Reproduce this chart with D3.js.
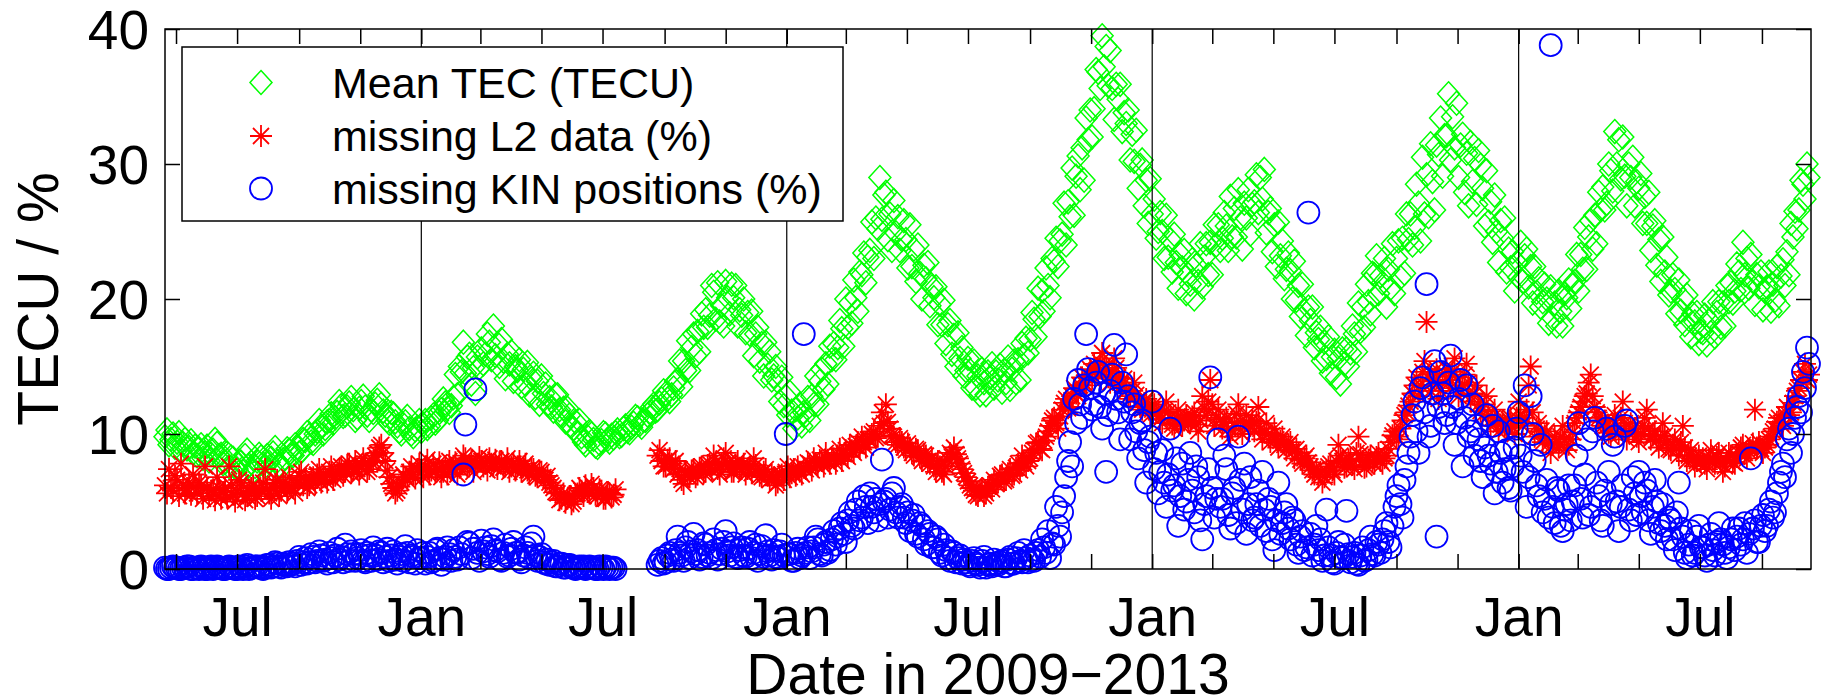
<!DOCTYPE html>
<html>
<head>
<meta charset="utf-8">
<script src="https://cdn.jsdelivr.net/npm/d3@7"></script>
<style>
  body { margin: 0; background: #fff; }
  text { font-family: "Liberation Sans", Arial, Helvetica, sans-serif; }
</style>
</head>
<body>
<div id="chart"></div>
<script>
// one sample every 2 days, first sample 20 Apr 2009 (each row = 32 days)
const startDate = new Date(2009, 3, 20);
const endDate = new Date(2013, 9, 20);
const stepDays = 2;

// Mean TEC (TECU)
const tecValues = [
  9.8, 10.3, 9.2, 9.6, 10.0, 9.0, 9.4, 10.1, 8.8, 9.3, 9.6, 8.9, 9.0, 9.5, 8.6, 9.1,
  8.4, 8.9, 9.2, 8.2, 8.6, 9.1, 8.0, 8.5, 8.8, 9.6, 9.3, 8.4, 8.5, 7.8, 7.9, 8.6,
  7.6, 8.3, 8.2, 7.5, 7.4, 8.0, 7.9, 7.2, 8.4, 8.8, 7.7, 7.9, 7.2, 7.6, 8.0, 8.5,
  8.3, 7.8, 7.6, 8.4, 7.9, 8.2, 8.6, 9.0, 8.0, 7.7, 7.5, 8.1, 8.2, 8.9, 8.8, 8.4,
  8.4, 9.2, 9.0, 8.6, 8.7, 9.6, 9.5, 10.1, 9.9, 9.4, 9.3, 10.0, 10.2, 11.0, 10.6, 10.0,
  10.4, 10.9, 11.0, 11.5, 10.8, 11.2, 11.6, 12.4, 12.1, 11.3, 11.4, 12.0, 12.3, 12.7, 11.8, 11.0,
  11.2, 11.9, 12.4, 12.8, 12.0, 11.4, 11.0, 11.8, 11.6, 12.2, 12.5, 12.9, 12.2, 11.7, 11.4, 11.0,
  10.8, 11.6, 11.5, 10.9, 10.6, 10.2, 10.0, 10.7, 10.9, 11.3, 10.4, 10.0, 9.8, 10.3, 10.5, 11.0,
  10.2, 10.7, 11.0, 10.4, 10.6, 11.2, 11.4, 10.8, 11.0, 11.6, 11.8, 12.6, 12.3, 11.9, 11.6, 12.1,
  12.7, 14.4, 12.9, 15.0, 14.6, 16.8, 14.5, 15.7, 15.9, 13.7, 14.9, 13.0, 15.7, 14.9, 16.3, 15.2,
  15.9, 17.4, 16.8, 15.5, 18.0, 15.8, 16.7, 15.0, 17.0, 15.4, 14.1, 15.9, 15.2, 16.1, 13.9, 15.0,
  14.7, 15.5, 13.5, 14.8, 13.7, 15.3, 12.9, 14.1, 14.5, 12.7, 13.9, 12.2, 14.3, 13.0, 13.7, 12.2,
  12.7, 12.0, 11.7, 12.9, 12.9, 11.8, 11.4, 11.9, 10.9, 11.9, 11.4, 10.6, 10.4, 10.9, 10.0, 11.0,
  9.8, 9.4, 9.2, 9.8, 10.2, 10.0, 9.6, 9.1, 9.0, 9.3, 9.5, 10.1, 10.0, 9.6, 9.4, 9.9,
  9.7, 10.1, 10.3, 9.8, 9.9, 10.4, 10.6, 10.2, 10.1, 10.5, 10.8, 11.3, 11.2, 10.7, 10.5, 11.0,
  11.0, 11.4, 11.6, 12.0, 12.2, 11.7, 11.8, 12.3, 12.6, 13.2, 13.0, 12.6, 12.4, 12.9, 13.4, 13.9,
  14.0, 15.4, 13.5, 15.4, 14.7, 16.9, 14.7, 16.4, 17.4, 15.8, 17.6, 16.1, 18.9, 17.9, 19.2, 17.9,
  18.8, 21.0, 20.5, 18.5, 21.2, 18.3, 19.5, 18.0, 21.3, 20.1, 18.9, 21.1, 20.1, 21.0, 18.0, 19.2,
  18.8, 20.0, 17.5, 19.0, 17.4, 19.1, 15.8, 17.4, 17.9, 15.4, 16.7, 14.3, 16.8, 15.1, 16.1, 14.0,
  14.3, 15.0, 13.9, 12.4, 14.2, 12.1, 12.8, 11.4, 13.1, 11.7, 10.4, 11.8, 11.2, 12.2, 10.6, 11.6,
  11.4, 12.7, 11.0, 12.8, 12.2, 14.3, 12.2, 13.9, 14.8, 13.3, 15.2, 13.7, 16.5, 15.5, 16.7, 15.5,
  16.4, 18.4, 17.8, 16.5, 20.0, 17.9, 19.7, 18.2, 21.4, 20.1, 19.1, 22.0, 21.8, 23.4, 21.2, 23.1,
  23.6, 25.7, 23.0, 26.0, 25.2, 29.0, 25.9, 27.7, 27.9, 24.4, 26.3, 23.6, 27.3, 24.9, 26.1, 23.6,
  24.4, 25.8, 24.4, 22.3, 25.5, 22.4, 23.7, 21.3, 24.0, 21.9, 20.0, 22.5, 21.5, 22.7, 19.5, 20.9,
  20.1, 20.9, 18.1, 19.6, 18.1, 19.9, 16.7, 18.1, 18.4, 15.9, 17.3, 15.0, 17.5, 15.6, 16.4, 14.3,
  14.7, 15.6, 14.7, 13.4, 15.4, 13.4, 14.3, 12.9, 14.8, 13.8, 12.9, 14.6, 14.2, 15.2, 13.4, 14.6,
  14.0, 15.1, 13.1, 14.7, 13.8, 15.7, 13.3, 14.8, 15.4, 13.8, 15.5, 14.0, 16.7, 15.8, 17.1, 16.0,
  17.0, 19.0, 18.5, 17.2, 20.8, 18.7, 20.6, 19.1, 22.3, 21.0, 20.1, 23.0, 22.8, 24.5, 22.4, 24.3,
  24.8, 27.1, 24.0, 27.2, 26.1, 29.7, 26.2, 29.1, 30.6, 28.1, 31.2, 28.8, 33.4, 31.8, 34.0, 32.0,
  34.1, 37.0, 36.8, 35.6, 39.5, 37.2, 38.7, 35.8, 38.4, 35.6, 33.3, 35.9, 34.8, 35.9, 32.4, 33.8,
  33.0, 34.0, 30.3, 32.2, 30.2, 32.5, 28.2, 29.9, 30.3, 26.9, 28.8, 25.6, 28.9, 26.3, 27.4, 24.5,
  25.0, 26.4, 25.0, 23.0, 26.2, 23.1, 24.4, 22.0, 24.8, 22.7, 20.8, 23.3, 22.3, 23.6, 20.4, 21.8,
  21.1, 22.9, 20.0, 22.5, 21.3, 24.1, 20.9, 23.1, 24.1, 21.8, 24.2, 21.8, 25.5, 24.0, 25.5, 23.6,
  24.5, 26.4, 25.4, 23.6, 27.6, 24.6, 26.7, 24.6, 28.1, 26.0, 23.7, 27.1, 26.0, 28.1, 24.8, 27.0,
  27.2, 29.2, 26.4, 29.0, 27.4, 29.6, 24.9, 26.4, 26.7, 23.5, 25.5, 22.4, 25.7, 23.2, 24.3, 21.5,
  22.2, 23.4, 22.1, 20.0, 22.8, 19.9, 21.0, 18.7, 21.1, 19.1, 17.3, 19.4, 18.4, 19.4, 16.4, 17.5,
  17.0, 17.9, 15.4, 16.8, 15.6, 17.2, 14.5, 15.7, 16.2, 14.2, 15.6, 13.7, 16.3, 15.2, 16.3, 15.0,
  16.0, 18.0, 17.4, 16.1, 19.7, 17.6, 19.4, 17.9, 21.1, 19.8, 18.9, 21.9, 21.8, 23.2, 20.4, 21.7,
  21.2, 23.0, 19.4, 22.2, 20.8, 24.1, 20.4, 23.0, 24.3, 21.6, 24.5, 21.9, 26.3, 24.4, 26.3, 24.0,
  25.3, 28.5, 27.1, 24.3, 30.5, 26.3, 29.2, 26.1, 31.5, 28.7, 26.6, 31.4, 30.7, 33.4, 29.1, 32.1,
  32.1, 35.2, 30.3, 33.5, 31.2, 34.5, 29.0, 31.4, 32.2, 27.9, 30.8, 26.9, 31.6, 28.7, 30.4, 27.0,
  31.0, 29.9, 28.2, 25.4, 29.5, 25.7, 27.2, 24.2, 27.7, 25.0, 22.7, 25.8, 24.5, 26.0, 22.0, 23.7,
  22.3, 23.5, 20.6, 22.7, 21.6, 24.2, 21.3, 23.2, 23.7, 20.9, 22.4, 19.7, 22.4, 20.5, 21.5, 19.4,
  19.8, 21.1, 20.0, 18.2, 20.9, 18.6, 19.7, 18.0, 20.6, 19.1, 18.0, 20.4, 20.1, 21.4, 19.3, 21.0,
  21.3, 23.3, 20.6, 23.3, 22.2, 25.3, 22.2, 24.6, 25.8, 23.7, 26.2, 24.1, 27.9, 26.6, 28.3, 26.6,
  27.1, 30.0, 29.5, 28.0, 32.4, 30.0, 31.8, 28.9, 32.0, 29.1, 26.9, 30.0, 29.0, 30.5, 26.9, 28.7,
  28.2, 29.3, 25.6, 27.6, 25.6, 27.9, 23.6, 25.4, 25.8, 22.5, 24.4, 21.3, 24.6, 22.0, 23.1, 20.3,
  20.6, 21.8, 20.7, 18.9, 21.4, 19.1, 20.0, 18.1, 20.3, 18.5, 17.2, 18.9, 18.3, 19.0, 16.7, 17.6,
  17.5, 18.8, 16.6, 18.4, 17.5, 19.8, 17.2, 19.0, 19.8, 17.9, 19.7, 18.0, 21.0, 19.8, 21.2, 19.7,
  20.6, 22.6, 22.0, 20.7, 24.2, 21.8, 23.0, 20.8, 23.3, 21.3, 19.6, 21.8, 20.9, 22.0, 19.2, 20.6,
  20.9, 22.0, 19.1, 21.1, 19.9, 22.4, 19.5, 21.7, 22.9, 21.0, 23.5, 21.8, 25.6, 24.6, 26.5, 25.2,
  26.6, 28.8, 28.5, 27.4, 30.0, 29.0
];

// missing L2 data (%)
const l2Values = [
  6.2, 5.6, 7.4, 6.0, 5.8, 6.9, 6.6, 5.4, 7.8, 6.2, 5.6, 6.0, 6.4, 5.5, 7.0, 6.1,
  5.6, 6.4, 6.2, 5.2, 7.6, 6.0, 5.4, 5.8, 5.9, 5.1, 6.8, 6.0, 5.2, 5.7, 6.0, 5.3,
  7.6, 6.2, 5.5, 5.0, 5.8, 6.6, 6.4, 5.6, 5.1, 5.4, 5.7, 6.0, 6.2, 5.2, 5.4, 5.9,
  5.8, 6.4, 7.4, 5.9, 5.6, 5.2, 6.0, 6.3, 6.6, 5.4, 5.8, 6.4, 6.2, 5.7, 6.8, 6.1,
  6.0, 5.6, 6.4, 6.9, 7.2, 6.2, 6.6, 6.0, 6.2, 6.7, 6.8, 6.3, 7.0, 7.4, 6.4, 6.8,
  6.8, 6.4, 7.2, 7.6, 6.6, 6.9, 7.0, 7.4, 7.6, 6.9, 7.2, 7.7, 7.8, 7.1, 7.4, 8.0,
  7.4, 7.0, 7.6, 8.2, 7.8, 7.2, 7.4, 7.9, 8.0, 8.4, 8.6, 9.0, 9.2, 8.6, 8.0, 7.3,
  6.8, 6.3, 6.0, 5.6, 5.8, 6.1, 6.4, 7.0, 6.8, 6.6, 7.2, 7.6, 7.0, 6.7, 7.4, 7.8,
  7.2, 6.8, 7.6, 8.1, 7.0, 7.3, 7.8, 7.2, 7.4, 7.9, 6.8, 7.2, 7.6, 7.0, 8.0, 7.5,
  7.4, 7.9, 7.0, 7.5, 7.8, 8.4, 8.2, 7.6, 7.6, 8.0, 7.2, 7.7, 7.8, 8.3, 8.0, 7.6,
  7.8, 7.3, 8.2, 7.8, 7.6, 8.1, 7.4, 7.9, 8.0, 7.5, 7.6, 8.2, 7.2, 7.6, 7.8, 7.3,
  7.6, 8.0, 7.2, 7.6, 7.8, 7.3, 7.0, 7.5, 7.4, 6.9, 6.8, 7.3, 7.2, 6.8, 6.6, 6.9,
  6.4, 6.2, 6.0, 5.7, 5.6, 5.1, 5.2, 5.6, 4.9, 5.2, 5.4, 4.8, 5.0, 5.5, 5.6, 6.0,
  5.8, 5.4, 6.2, 5.7, 5.6, 6.3, 6.0, 5.5, 5.4, 5.9, 5.8, 5.2, 5.2, 5.7, 5.6, 5.3,
  5.5, 5.9, null, null, null, null, null, null, null, null, null, null, null, null, null, null,
  null, null, null, null, null, null, 8.4, 8.8, 8.0, 7.6, 7.6, 8.1, 8.2, 7.8, 7.4, 8.0,
  7.0, 7.4, 6.6, 6.3, 7.2, 6.9, 6.8, 7.3, 7.4, 6.8, 7.0, 7.5, 7.6, 7.1, 7.2, 7.7,
  7.8, 7.3, 8.4, 7.9, 7.4, 7.0, 7.8, 8.2, 8.6, 7.9, 7.6, 7.2, 7.2, 7.7, 8.0, 7.5,
  7.4, 7.8, 7.0, 7.4, 7.6, 7.1, 8.2, 7.7, 7.2, 6.9, 6.8, 7.2, 7.4, 6.9, 6.6, 7.0,
  6.8, 6.2, 6.4, 6.9, 7.0, 6.6, 7.2, 7.6, 6.8, 7.1, 7.4, 6.9, 7.6, 7.2, 7.0, 7.5,
  7.4, 7.9, 7.8, 7.3, 8.2, 7.8, 7.6, 8.1, 8.0, 7.6, 8.6, 8.1, 7.8, 8.3, 8.2, 7.8,
  8.4, 8.9, 8.0, 8.5, 8.8, 8.3, 9.2, 8.8, 8.6, 9.1, 9.4, 8.9, 9.8, 9.4, 9.0, 9.6,
  9.6, 10.0, 10.2, 9.7, 9.8, 10.6, 11.6, 10.8, 12.2, 10.9, 10.4, 9.9, 9.8, 9.4, 9.2, 9.7,
  9.4, 9.0, 8.8, 9.3, 9.0, 8.6, 8.4, 8.9, 8.8, 8.3, 8.0, 8.5, 8.4, 8.0, 7.8, 8.2,
  7.6, 7.2, 8.0, 7.6, 7.2, 7.0, 7.6, 8.1, 8.6, 8.3, 9.0, 8.5, 8.2, 7.8, 7.4, 7.1,
  6.8, 6.5, 6.2, 6.0, 5.8, 5.5, 5.4, 5.8, 6.0, 5.4, 5.6, 6.1, 6.2, 5.9, 6.6, 6.3,
  6.4, 6.9, 7.0, 6.5, 6.6, 7.1, 7.4, 6.9, 7.0, 7.5, 7.8, 7.3, 8.4, 7.9, 7.6, 8.0,
  8.2, 8.6, 8.8, 9.3, 9.4, 8.9, 8.8, 9.5, 9.8, 10.2, 10.6, 11.0, 11.2, 10.8, 10.4, 11.3,
  11.8, 12.3, 12.6, 11.9, 12.0, 12.8, 13.4, 13.0, 12.8, 13.6, 14.2, 13.8, 13.6, 14.4, 14.8, 14.1,
  15.2, 14.7, 14.4, 15.3, 16.0, 15.1, 14.8, 14.2, 13.8, 14.6, 15.6, 14.9, 14.2, 13.8, 13.6, 14.1,
  13.2, 12.8, 12.6, 13.2, 13.8, 12.9, 12.4, 12.0, 11.8, 12.3, 12.6, 11.9, 11.4, 11.8, 12.2, 11.6,
  11.6, 11.1, 10.8, 11.7, 12.4, 11.6, 11.2, 10.7, 10.4, 11.2, 11.8, 11.0, 10.6, 11.0, 11.4, 10.9,
  10.8, 11.3, 11.6, 10.7, 10.2, 11.0, 12.8, 11.9, 11.4, 12.4, 14.0, 12.2, 10.6, 11.2, 11.8, 11.1,
  10.4, 10.9, 11.2, 10.4, 9.8, 10.3, 10.8, 11.5, 12.2, 10.9, 10.0, 10.6, 11.4, 10.8, 10.6, 11.0,
  10.2, 10.9, 12.0, 10.4, 9.6, 10.1, 10.8, 10.0, 9.4, 9.9, 10.4, 9.6, 9.0, 9.5, 9.8, 9.2,
  8.8, 9.2, 9.4, 8.7, 8.2, 8.9, 8.6, 8.1, 7.8, 8.2, 8.4, 7.9, 7.6, 7.3, 7.0, 7.4,
  6.8, 7.2, 6.4, 6.8, 7.2, 7.6, 7.8, 7.3, 7.0, 8.0, 9.2, 8.4, 8.0, 7.5, 7.6, 8.1,
  8.2, 7.7, 7.4, 8.6, 9.8, 8.5, 8.0, 7.5, 7.6, 8.1, 8.4, 7.9, 7.8, 8.3, 8.6, 8.0,
  7.8, 8.2, 8.4, 8.9, 9.4, 9.9, 10.2, 9.8, 9.6, 10.4, 11.0, 11.4, 11.6, 12.1, 12.4, 13.0,
  13.6, 14.2, 12.8, 13.6, 14.6, 15.4, 18.3, 14.4, 13.2, 13.9, 14.0, 14.8, 12.6, 13.2, 13.8, 14.5,
  14.8, 14.0, 13.4, 14.6, 15.6, 14.2, 12.8, 13.3, 13.6, 14.4, 15.2, 13.8, 12.4, 12.9, 13.0, 13.6,
  12.2, 11.7, 11.4, 12.2, 12.8, 11.4, 10.6, 11.2, 11.8, 10.9, 10.2, 10.7, 11.0, 10.6, 10.4, 11.1,
  11.2, 10.5, 10.0, 11.2, 12.4, 11.4, 10.6, 11.2, 11.8, 13.6, 15.0, 11.6, 9.8, 10.4, 10.8, 10.2,
  9.4, 9.9, 10.2, 9.3, 8.6, 9.2, 9.8, 9.4, 9.0, 9.8, 10.6, 9.6, 8.8, 9.2, 9.6, 10.1,
  10.8, 11.2, 11.6, 12.0, 12.4, 12.8, 13.0, 13.8, 14.4, 12.8, 12.0, 11.6, 11.2, 10.9, 10.6, 11.0,
  10.6, 10.1, 9.8, 10.6, 11.4, 10.6, 10.0, 11.2, 12.4, 10.8, 9.6, 10.1, 10.8, 10.4, 10.2, 9.8,
  9.4, 10.0, 10.6, 11.2, 11.8, 10.4, 9.6, 9.9, 10.2, 9.5, 9.0, 9.8, 10.8, 9.9, 9.4, 8.9,
  8.8, 9.2, 9.6, 8.9, 8.4, 9.4, 10.6, 9.0, 8.0, 8.4, 8.8, 8.2, 7.6, 8.0, 8.4, 7.9,
  8.2, 7.8, 7.4, 8.1, 8.8, 8.2, 7.8, 8.3, 8.6, 7.9, 7.2, 7.6, 8.0, 8.6, 8.4, 7.9,
  7.8, 8.3, 8.6, 9.0, 9.2, 8.6, 8.2, 8.7, 8.8, 9.3, 11.8, 9.0, 9.4, 8.9, 8.6, 9.0,
  9.2, 9.6, 9.8, 10.2, 10.4, 10.9, 11.2, 10.8, 10.6, 11.4, 12.0, 11.4, 11.6, 12.3, 12.8, 13.2,
  13.4, 14.0, 14.6, 15.2, 14.0, 14.4
];

// missing KIN positions (%)
const kinValues = [
  0.1, 0.0, 0.0, 0.1, 0.2, 0.1, 0.1, 0.0, 0.0, 0.1, 0.1, 0.2, 0.2, 0.0, 0.0, 0.1,
  0.1, 0.0, 0.2, 0.1, 0.0, 0.0, 0.1, 0.2, 0.0, 0.1, 0.2, 0.1, 0.1, 0.0, 0.0, 0.1,
  0.2, 0.1, 0.1, 0.0, 0.0, 0.2, 0.1, 0.0, 0.2, 0.3, 0.0, 0.1, 0.1, 0.2, 0.2, 0.1,
  0.2, 0.0, 0.1, 0.3, 0.3, 0.1, 0.2, 0.5, 0.4, 0.2, 0.1, 0.4, 0.3, 0.2, 0.5, 0.3,
  0.4, 0.2, 0.6, 0.9, 0.3, 0.5, 0.8, 0.4, 0.5, 1.1, 0.9, 0.5, 0.6, 1.3, 1.0, 0.6,
  0.7, 0.4, 1.2, 0.8, 0.5, 1.0, 1.5, 0.7, 0.9, 0.5, 1.8, 1.1, 0.6, 1.3, 1.1, 0.6,
  0.8, 1.1, 1.4, 0.6, 0.5, 1.2, 1.0, 0.6, 1.6, 1.0, 0.7, 1.3, 1.2, 0.5, 0.9, 1.5,
  0.6, 1.0, 1.3, 0.7, 0.4, 0.9, 1.1, 0.6, 1.7, 1.2, 0.5, 1.0, 0.9, 0.4, 1.4, 0.8,
  0.8, 1.2, 0.4, 0.9, 1.2, 0.5, 0.6, 1.4, 1.5, 0.8, 0.3, 0.7, 0.9, 1.6, 1.1, 0.6,
  1.4, 0.9, 0.7, 1.6, 1.1, 7.0, 10.7, 2.0, 1.9, 0.8, 1.5, 13.3, 1.2, 0.6, 2.1, 1.3,
  1.6, 1.1, 0.9, 1.7, 2.2, 1.4, 1.3, 0.7, 0.6, 1.2, 1.8, 0.9, 1.0, 1.5, 2.0, 1.2,
  1.2, 0.7, 0.5, 1.0, 1.6, 1.2, 0.8, 1.9, 2.4, 1.0, 0.6, 0.9, 1.1, 0.5, 0.4, 0.7,
  0.3, 0.5, 0.6, 0.2, 0.2, 0.4, 0.4, 0.1, 0.1, 0.3, 0.3, 0.1, 0.2, 0.0, 0.1, 0.2,
  0.1, 0.2, 0.0, 0.1, 0.2, 0.1, 0.1, 0.0, 0.0, 0.2, 0.1, 0.0, 0.2, 0.1, 0.0, 0.1,
  0.1, 0.0, null, null, null, null, null, null, null, null, null, null, null, null, null, null,
  null, null, null, null, null, null, 0.3, 0.6, 0.8, 0.4, 0.5, 1.0, 1.2, 0.7, 0.6, 1.4,
  2.4, 1.2, 1.0, 0.6, 1.6, 2.0, 0.8, 1.3, 2.6, 1.1, 1.4, 0.7, 0.9, 1.9, 1.8, 1.0,
  1.2, 0.8, 2.2, 1.4, 0.7, 1.1, 1.5, 2.0, 2.8, 1.3, 1.0, 1.6, 1.9, 0.9, 0.8, 1.4,
  1.6, 1.0, 0.9, 1.5, 2.0, 0.8, 1.2, 1.8, 0.6, 1.1, 1.7, 0.9, 2.5, 1.3, 1.0, 0.7,
  1.4, 0.9, 0.8, 1.3, 1.8, 1.0, 10.0, 1.1, 1.1, 0.6, 0.6, 1.2, 1.5, 0.8, 1.0, 17.4,
  1.2, 1.6, 0.8, 1.3, 1.6, 2.4, 2.2, 1.1, 1.0, 1.8, 2.0, 1.2, 1.4, 2.2, 2.8, 1.8,
  2.4, 3.0, 3.4, 2.6, 2.0, 3.6, 4.2, 3.2, 3.0, 4.4, 5.0, 3.6, 3.8, 5.4, 4.6, 3.4,
  5.6, 4.6, 4.2, 5.2, 3.6, 4.8, 8.1, 5.0, 5.2, 3.8, 4.4, 5.6, 6.0, 4.2, 3.8, 4.6,
  4.8, 3.8, 3.4, 4.2, 2.8, 3.6, 4.0, 2.6, 2.4, 3.4, 3.2, 2.2, 1.8, 2.8, 2.6, 1.6,
  1.6, 2.4, 2.2, 1.2, 1.0, 1.8, 1.4, 0.8, 0.6, 1.3, 1.2, 0.5, 0.8, 1.0, 0.4, 0.7,
  0.5, 0.3, 0.2, 0.6, 0.8, 0.4, 0.3, 0.1, 0.6, 0.9, 0.1, 0.3, 0.4, 0.2, 0.7, 0.4,
  0.3, 0.5, 0.6, 0.2, 0.2, 0.7, 0.9, 0.4, 0.4, 0.8, 1.2, 0.6, 0.5, 1.4, 0.8, 0.5,
  1.0, 0.7, 0.6, 1.2, 1.4, 0.9, 2.2, 1.6, 1.2, 2.8, 0.8, 1.9, 1.8, 4.6, 3.2, 2.4,
  4.2, 5.4, 6.8, 8.0, 9.4, 7.6, 12.6, 10.8, 14.0, 12.2, 11.2, 13.6, 17.4, 14.8, 13.4, 11.8,
  12.2, 13.8, 14.6, 12.0, 10.4, 13.0, 7.2, 11.4, 13.2, 14.4, 16.6, 12.6, 11.6, 9.6, 13.8, 12.4,
  15.9, 12.8, 9.6, 11.6, 12.2, 10.2, 8.2, 10.8, 11.0, 8.8, 6.4, 9.4, 9.8, 12.4, 7.4, 8.6,
  5.6, 7.2, 8.8, 6.4, 4.6, 7.0, 10.4, 5.8, 6.2, 8.2, 3.2, 5.4, 7.8, 4.4, 5.0, 6.6,
  8.6, 5.8, 4.2, 7.6, 6.8, 3.6, 2.2, 4.8, 5.4, 7.4, 14.2, 6.0, 3.8, 5.2, 9.6, 4.6,
  5.2, 8.4, 7.4, 4.0, 3.0, 5.6, 6.0, 3.4, 9.8, 6.6, 4.4, 7.8, 2.6, 4.8, 6.8, 3.6,
  3.8, 4.8, 5.8, 3.2, 7.2, 4.4, 2.8, 5.2, 4.6, 2.2, 1.4, 3.6, 6.4, 2.6, 3.4, 4.2,
  4.8, 3.0, 2.2, 3.8, 3.6, 1.8, 1.2, 2.4, 2.8, 1.4, 1.6, 26.4, 2.6, 1.0, 1.8, 3.2,
  1.4, 2.2, 0.6, 1.0, 4.4, 1.6, 1.0, 0.5, 0.4, 1.2, 2.0, 0.9, 0.8, 1.8, 4.3, 1.1,
  0.5, 0.9, 1.2, 0.4, 0.3, 1.0, 1.6, 0.6, 0.7, 1.4, 2.4, 1.1, 1.0, 2.0, 1.8, 1.2,
  2.2, 2.8, 3.4, 2.0, 1.6, 3.2, 4.6, 5.4, 6.2, 4.8, 3.8, 6.6, 7.6, 8.6, 9.8, 11.4,
  12.4, 10.2, 8.6, 13.4, 14.2, 11.6, 21.1, 9.8, 10.6, 13.0, 15.4, 2.4, 12.0, 14.6, 13.0, 10.8,
  11.4, 13.8, 15.8, 12.0, 9.2, 10.8, 12.6, 14.0, 7.6, 11.2, 13.6, 9.8, 10.2, 12.2, 8.4, 10.6,
  9.6, 8.0, 6.8, 9.0, 11.4, 8.4, 7.8, 10.6, 5.6, 7.2, 10.2, 8.6, 6.4, 7.4, 8.8, 6.0,
  5.8, 7.6, 9.0, 10.4, 11.6, 8.4, 7.2, 13.6, 4.6, 6.8, 12.8, 10.0, 8.0, 6.2, 5.4, 9.2,
  4.2, 5.2, 6.6, 3.8, 38.8, 4.6, 3.4, 6.0, 5.8, 3.2, 2.8, 4.4, 4.8, 6.2, 3.6, 5.0,
  6.2, 8.4, 10.8, 5.2, 3.8, 7.0, 9.6, 4.0, 4.6, 10.2, 11.2, 6.4, 5.4, 3.6, 3.2, 5.8,
  10.4, 7.2, 4.8, 9.2, 9.8, 5.0, 2.8, 4.6, 6.2, 10.6, 11.0, 4.4, 3.6, 6.8, 5.6, 4.0,
  7.2, 5.4, 4.2, 6.4, 5.8, 3.6, 2.6, 4.6, 6.6, 5.0, 3.4, 2.8, 4.8, 3.2, 2.2, 3.8,
  3.6, 2.2, 1.4, 4.2, 6.4, 3.0, 2.4, 1.2, 0.8, 1.8, 2.8, 1.0, 1.2, 2.4, 3.2, 1.6,
  1.6, 1.0, 0.6, 1.8, 2.6, 1.4, 1.0, 2.0, 3.4, 2.2, 1.8, 1.2, 0.8, 1.6, 2.2, 3.0,
  1.4, 2.4, 3.0, 1.8, 2.2, 3.4, 1.2, 2.6, 8.2, 3.0, 3.6, 2.0, 2.0, 3.2, 4.0, 2.8,
  3.2, 4.4, 5.0, 3.8, 4.2, 5.6, 6.4, 7.2, 7.8, 6.8, 9.6, 10.4, 8.6, 10.0, 11.2, 12.0,
  12.8, 11.6, 14.6, 13.4, 16.4, 15.2
];

const seriesNames = ["Mean TEC (TECU)", "missing L2 data (%)", "missing KIN positions (%)"];
const seriesColors = ["#00ff00", "#ff0000", "#0000ff"];
const yTicks = [0, 10, 20, 30, 40];
const monthLabels = {0: "Jan", 6: "Jul"};
const yearLines = [new Date(2010, 0, 1), new Date(2011, 0, 1), new Date(2012, 0, 1), new Date(2013, 0, 1)];

// figure layout
const W = 1823, H = 698;
const margin = {top: 29, right: 12, bottom: 129, left: 165};
const width = W - margin.left - margin.right,
    height = H - margin.top - margin.bottom;

const svg = d3.select("#chart")
    .append("svg")
    .attr("width", W)
    .attr("height", H);
const g = svg.append("g")
    .attr("transform", `translate(${margin.left},${margin.top})`);

const x = d3.scaleTime()
    .domain([startDate, endDate])
    .range([0, width]);
const y = d3.scaleLinear()
    .domain([0, 40])
    .range([height, 0]);

const dateAt = i => d3.timeDay.offset(startDate, i * stepDays);

// marker shapes (MATLAB-like)
const markers = [
    "M0,-12L11,0L0,12L-11,0Z",
    "M-11,0H11M0,-11V11M-8,-8L8,8M-8,8L8,-8",
    null
];

// series, drawn green -> red -> blue
[tecValues, l2Values, kinValues].forEach((vals, s) => {
    const pts = vals.map((v, i) => ({date: dateAt(i), v: v})).filter(d => d.v !== null);
    const layer = g.append("g");
    if (s === 2) {
        layer.selectAll("circle")
            .data(pts)
            .enter()
            .append("circle")
            .attr("cx", d => x(d.date))
            .attr("cy", d => y(d.v))
            .attr("r", 11)
            .attr("fill", "none")
            .attr("stroke", seriesColors[s])
            .attr("stroke-width", 1.8);
    } else {
        layer.selectAll("path")
            .data(pts)
            .enter()
            .append("path")
            .attr("d", markers[s])
            .attr("transform", d => `translate(${x(d.date)},${y(d.v)})`)
            .attr("fill", "none")
            .attr("stroke", seriesColors[s])
            .attr("stroke-width", s === 1 ? 1.8 : 1.5);
    }
});

// January separators
g.selectAll("line.year")
    .data(yearLines)
    .enter()
    .append("line")
    .attr("class", "year")
    .attr("x1", d => x(d)).attr("x2", d => x(d))
    .attr("y1", y(0)).attr("y2", y(40))
    .attr("stroke", "#000")
    .attr("stroke-width", 1.2);

// axes (ticks inside, like MATLAB)
const xTicks = d3.timeMonth.every(2);
const fmtX = d => monthLabels[d.getMonth()] !== undefined && d.getDate() === 1 ? monthLabels[d.getMonth()] : "";

const xAxis = g.append("g")
    .attr("transform", `translate(0,${height})`)
    .call(d3.axisBottom(x).ticks(xTicks).tickFormat(fmtX).tickSize(-15).tickPadding(28));
const xAxisTop = g.append("g")
    .call(d3.axisTop(x).ticks(xTicks).tickFormat("").tickSize(-15));
const yAxis = g.append("g")
    .call(d3.axisLeft(y).tickValues(yTicks).tickSize(-15).tickPadding(16));
const yAxisRight = g.append("g")
    .attr("transform", `translate(${width},0)`)
    .call(d3.axisRight(y).tickValues(yTicks).tickFormat("").tickSize(-15));

[xAxis, xAxisTop, yAxis, yAxisRight].forEach(a => {
    a.select(".domain").remove();
    a.selectAll(".tick line").attr("stroke", "#000").attr("stroke-width", 1.5);
    a.selectAll("text").attr("fill", "#000").style("font-size", "55px");
});
// drop the empty labels
xAxis.selectAll(".tick text").filter(function() { return this.textContent === ""; }).remove();
[xAxisTop, yAxisRight].forEach(a => a.selectAll(".tick text").remove());
yAxis.selectAll("text").attr("dy", "0.36em");

// frame
g.append("rect")
    .attr("x", 0).attr("y", 0)
    .attr("width", width).attr("height", height)
    .attr("fill", "none")
    .attr("stroke", "#000")
    .attr("stroke-width", 1.5);

// legend
const legend = svg.append("g")
    .attr("transform", "translate(182,47)");
legend.append("rect")
    .attr("width", 661).attr("height", 174)
    .attr("fill", "#fff")
    .attr("stroke", "#000")
    .attr("stroke-width", 1.5);
const rowY = [35.5, 89, 141.5];
seriesNames.forEach((name, s) => {
    const row = legend.append("g").attr("transform", `translate(79,${rowY[s]})`);
    if (s === 2) {
        row.append("circle").attr("r", 11).attr("fill", "none")
            .attr("stroke", seriesColors[s]).attr("stroke-width", 1.8);
    } else {
        row.append("path").attr("d", markers[s]).attr("fill", "none")
            .attr("stroke", seriesColors[s]).attr("stroke-width", s === 1 ? 1.8 : 1.5);
    }
    row.append("text")
        .attr("x", 71)
        .attr("y", 15)
        .style("font-size", "43px")
        .text(name);
});

// axis labels
svg.append("text")
    .attr("text-anchor", "middle")
    .attr("x", margin.left + width / 2)
    .attr("y", 694)
    .style("font-size", "57px")
    .text("Date in 2009\u22122013");
svg.append("text")
    .attr("text-anchor", "middle")
    .attr("transform", `translate(58,${margin.top + height / 2}) rotate(-90)`)
    .style("font-size", "57px")
    .text("TECU / %");
</script>
</body>
</html>
